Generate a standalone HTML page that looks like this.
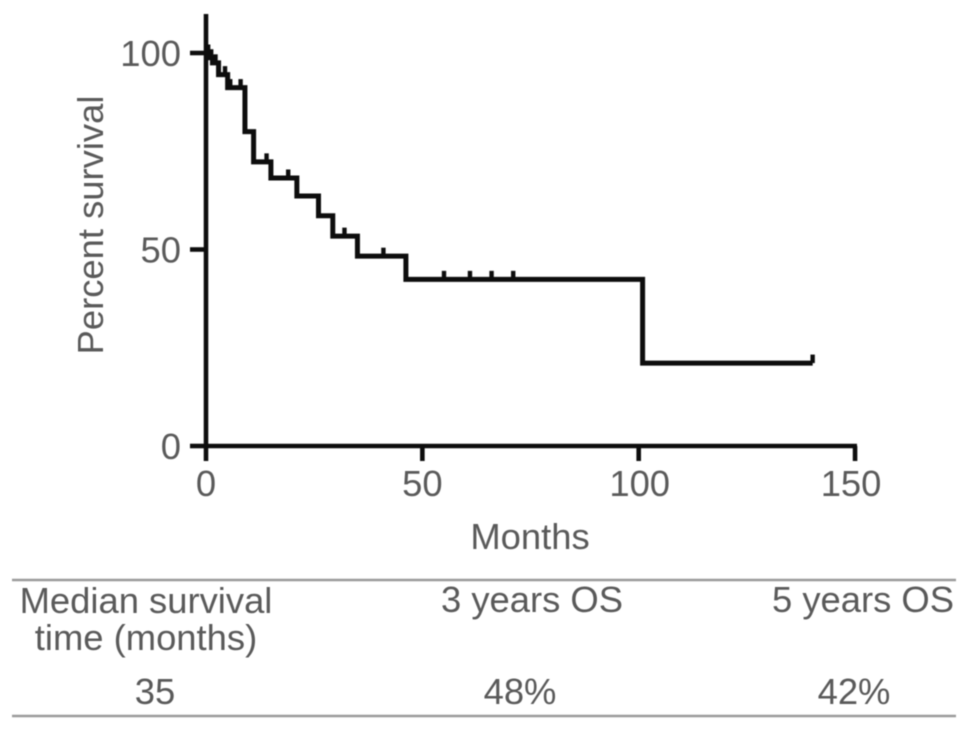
<!DOCTYPE html>
<html lang="en">
<head>
<meta charset="utf-8">
<title>Survival chart</title>
<style>
html,body{margin:0;padding:0;background:#fff;width:969px;height:731px;overflow:hidden}
svg{display:block}
text{font-family:"Liberation Sans",sans-serif;fill:#5a5a5a;font-size:36.4px}
</style>
</head>
<body>
<svg id="chart" xmlns="http://www.w3.org/2000/svg" width="969" height="731" viewBox="0 0 969 731">
<defs><filter id="soft" x="-2%" y="-2%" width="104%" height="104%"><feGaussianBlur stdDeviation="0.6"/></filter></defs>
<g id="plot" filter="url(#soft)"></g>
</svg>
<script>
const stepMonths = [0, 0.8, 1.5, 2.9, 5, 9, 11, 15, 21, 26, 29.3, 35, 46.2, 100.9];
const stepSurvival = [100, 98.8, 97.5, 94.5, 91.2, 80, 72.3, 68.2, 63.6, 58.6, 53.4, 48.3, 42.4, 21.1];
const lastMonth = 140.2;
const censorMonths = [0.5, 1.2, 2.2, 4.4, 5.6, 8, 14, 19, 32, 41, 55, 61, 66, 71, 140.2];
const xTicks = [0, 50, 100, 150];
const yTicks = [100, 50, 0];

const svgNS = 'http://www.w3.org/2000/svg';
const plot = document.getElementById('plot');
const xPos = m => 206 + m * 4.327;
const yPos = s => 446 - s * 3.93;
const survivalAt = m => {
  let s = stepSurvival[0];
  stepMonths.forEach((t, i) => { if (m >= t) s = stepSurvival[i]; });
  return s;
};
function add(tag, attrs, text) {
  const el = document.createElementNS(svgNS, tag);
  Object.keys(attrs).forEach(k => el.setAttribute(k, attrs[k]));
  if (text !== undefined) el.textContent = text;
  plot.appendChild(el);
  return el;
}
function line(x1, y1, x2, y2, w, c) {
  return add('line', {x1: x1, y1: y1, x2: x2, y2: y2, stroke: c || '#111', 'stroke-width': w});
}

let el;

el = line(206, 14, 206, 448, 4.6);



el = line(204, 446, 857, 446, 4.6);



xTicks.forEach(v => {
  const tick = line(xPos(v), 446, xPos(v), 461, 4.6);
  
  
  const anchorX = v === 150 ? xPos(v) - 4 : v === 100 ? xPos(v) + 1 : xPos(v);
  const label = add('text', {x: anchorX, y: 496, 'text-anchor': 'middle'}, String(v));
  
  
});

yTicks.forEach(v => {
  const tick = line(190, yPos(v), 206, yPos(v), 4.6);
  
  
  const label = add('text', {x: 181, y: yPos(v) + 13, 'text-anchor': 'end'}, String(v));
  
  
});

let d = 'M' + xPos(stepMonths[0]) + ' ' + yPos(stepSurvival[0]);
stepMonths.forEach((t, i) => {
  if (i > 0) d += 'H' + xPos(t) + 'V' + yPos(stepSurvival[i]);
});
d += 'H' + xPos(lastMonth);
el = add('path', {d: d, fill: 'none', stroke: '#111', 'stroke-width': 5, 'stroke-linejoin': 'miter'});



censorMonths.forEach(m => {
  const y = yPos(survivalAt(m));
  const mark = line(xPos(m), y, xPos(m), y - 8.5, 4.4);
  
  
});

el = add('text', {x: 530, y: 549, 'text-anchor': 'middle'}, 'Months');



el = add('text', {x: 0, y: 0, 'text-anchor': 'middle', transform: 'translate(103 225) rotate(-90)'}, 'Percent survival');



el = line(12, 580, 956, 580, 2.5, '#9a9a9a');



el = line(12, 716, 956, 716, 2.5, '#9a9a9a');



el = add('text', {x: 146, y: 613, 'text-anchor': 'middle'}, 'Median survival');



el = add('text', {x: 146, y: 650, 'text-anchor': 'middle'}, 'time (months)');



el = add('text', {x: 532, y: 612, 'text-anchor': 'middle'}, '3 years OS');



el = add('text', {x: 863, y: 612, 'text-anchor': 'middle'}, '5 years OS');



el = add('text', {x: 155, y: 704, 'text-anchor': 'middle'}, '35');



el = add('text', {x: 520, y: 704, 'text-anchor': 'middle'}, '48%');



el = add('text', {x: 854, y: 704, 'text-anchor': 'middle'}, '42%');


</script>
</body>
</html>
